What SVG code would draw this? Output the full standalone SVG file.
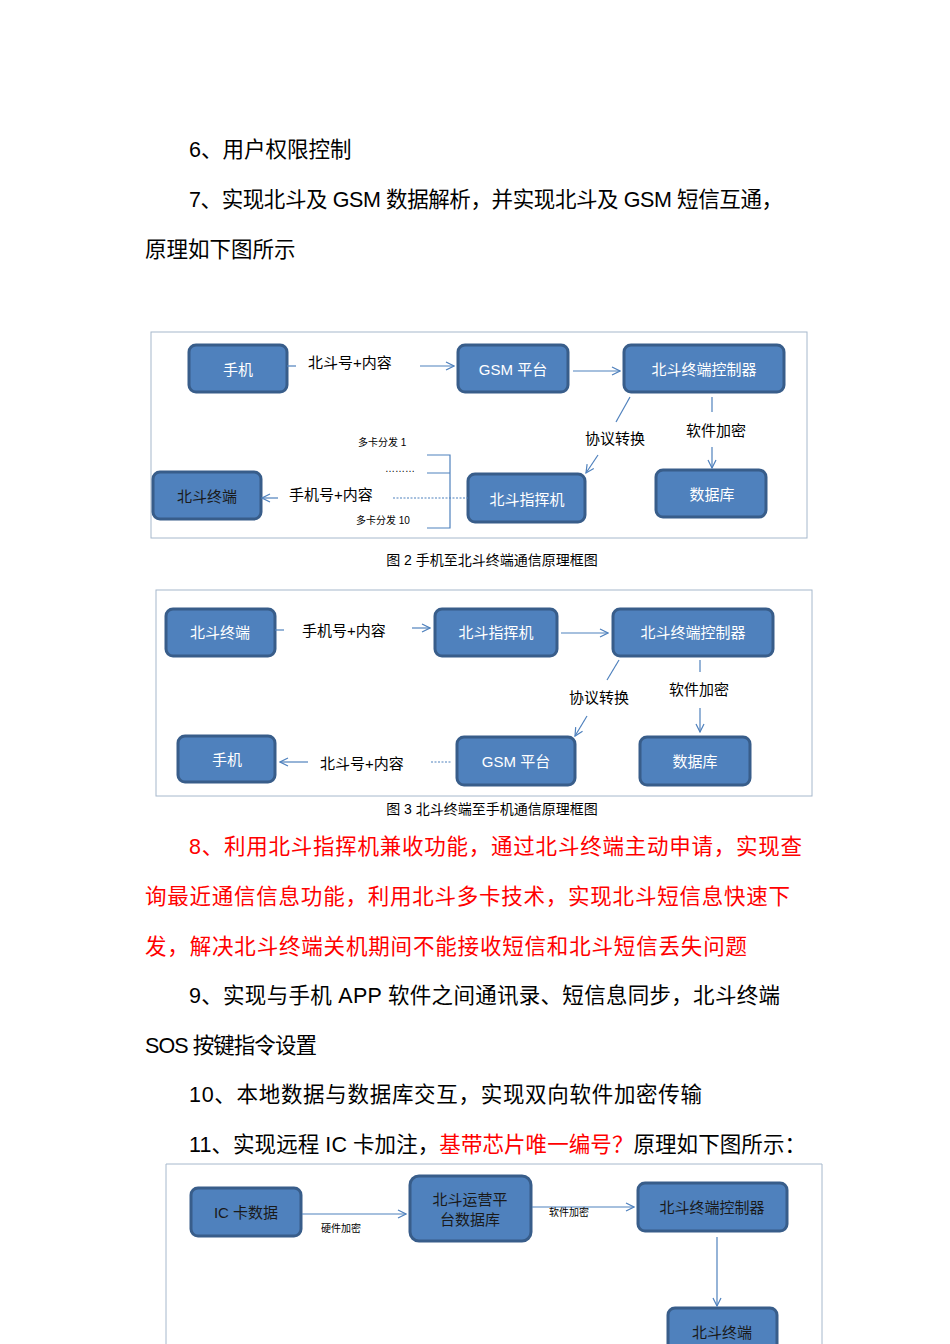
<svg xmlns="http://www.w3.org/2000/svg" width="950" height="1344" viewBox="0 0 950 1344">
<style>
.p{font-family:"Liberation Sans","Noto Sans CJK SC",sans-serif;font-size:21.5px;fill:#000}
.r{fill:#ff0000}
.n rect{fill:#4f81bd;stroke:#385d8a;stroke-width:3}
.n text{font-family:"Liberation Sans","Noto Sans CJK SC",sans-serif;font-size:15px;fill:#fff;text-anchor:middle}
.n text.d{fill:#1a1a1a}
.l{font-family:"Liberation Sans","Noto Sans CJK SC",sans-serif;font-size:15px;fill:#000}
.s{font-family:"Liberation Sans","Noto Sans CJK SC",sans-serif;font-size:10px;fill:#000}
.c{font-family:"Liberation Sans","Noto Sans CJK SC",sans-serif;font-size:14px;fill:#000;text-anchor:middle}
.e path,.e line{stroke:#4f81bd;stroke-width:1.2;fill:none}
.fr{fill:none;stroke:#a6b8cc;stroke-width:1}
</style>
<defs><marker id="a" viewBox="0 0 10 10" refX="9" refY="5" markerWidth="10" markerHeight="10" orient="auto" markerUnits="userSpaceOnUse"><path d="M1,1L9,5L1,9" fill="none" stroke="#4f81bd" stroke-width="1.2"/></marker></defs>
<rect width="950" height="1344" fill="#fff"/>
<text class="p" x="189" y="157">6、用户权限控制</text>
<text class="p" x="189" y="207" textLength="594">7、实现北斗及 GSM 数据解析，并实现北斗及 GSM 短信互通，</text>
<text class="p" x="145" y="257">原理如下图所示</text>

<rect class="fr" x="151" y="332" width="656" height="206"/>
<g id="f2-shouji" class="n"><rect x="189" y="345" width="98" height="47" rx="7"/><text x="238" y="375">手机</text></g>
<g id="f2-gsm" class="n"><rect x="458" y="345" width="110" height="47" rx="7"/><text x="513" y="375">GSM 平台</text></g>
<g id="f2-ctrl" class="n"><rect x="624" y="345" width="160" height="47" rx="7"/><text x="704" y="375">北斗终端控制器</text></g>
<g id="f2-term" class="n"><rect x="153" y="472" width="108" height="47" rx="7"/><text class="d" x="207" y="502">北斗终端</text></g>
<g id="f2-cmd" class="n"><rect x="468" y="474" width="117" height="48" rx="7"/><text x="527" y="505">北斗指挥机</text></g>
<g id="f2-db" class="n"><rect x="656" y="470" width="110" height="47" rx="7"/><text x="712" y="500">数据库</text></g>
<g class="e">
<line x1="287" y1="366" x2="296" y2="366"/>
<line x1="420" y1="366" x2="454" y2="366" marker-end="url(#a)"/>
<line x1="573" y1="371" x2="620" y2="371" marker-end="url(#a)"/>
<line x1="630" y1="397" x2="616" y2="422"/>
<line x1="598" y1="455" x2="586" y2="473" marker-end="url(#a)"/>
<line x1="712" y1="397" x2="712" y2="412"/>
<line x1="712" y1="447" x2="712" y2="468" marker-end="url(#a)"/>
<line x1="278" y1="498" x2="262" y2="498" marker-end="url(#a)"/>
<line x1="393" y1="498" x2="468" y2="498" stroke-dasharray="2,1.5"/>
<path d="M427,455H450V528H427M427,473H450"/>
</g>
<text class="l" x="308" y="368">北斗号+内容</text>
<text class="l" x="585" y="444">协议转换</text>
<text class="l" x="686" y="436">软件加密</text>
<text class="l" x="289" y="500">手机号+内容</text>
<text class="s" x="358" y="446">多卡分发 1</text>
<text class="s" x="385" y="472">………</text>
<text class="s" x="356" y="524">多卡分发 10</text>
<text class="c" x="492" y="565">图 2 手机至北斗终端通信原理框图</text>

<rect class="fr" x="156" y="590" width="656" height="206"/>
<g id="f3-term" class="n"><rect x="166" y="609" width="109" height="47" rx="7"/><text x="220" y="638">北斗终端</text></g>
<g id="f3-cmd" class="n"><rect x="435" y="609" width="122" height="47" rx="7"/><text x="496" y="638">北斗指挥机</text></g>
<g id="f3-ctrl" class="n"><rect x="613" y="609" width="160" height="47" rx="7"/><text x="693" y="638">北斗终端控制器</text></g>
<g id="f3-shouji" class="n"><rect x="178" y="736" width="97" height="46" rx="7"/><text x="227" y="765">手机</text></g>
<g id="f3-gsm" class="n"><rect x="457" y="737" width="118" height="48" rx="7"/><text x="516" y="767">GSM 平台</text></g>
<g id="f3-db" class="n"><rect x="640" y="737" width="110" height="48" rx="7"/><text x="695" y="767">数据库</text></g>
<g class="e">
<line x1="275" y1="630" x2="284" y2="630"/>
<line x1="412" y1="628" x2="430" y2="628" marker-end="url(#a)"/>
<line x1="561" y1="633" x2="608" y2="633" marker-end="url(#a)"/>
<line x1="619" y1="660" x2="607" y2="680"/>
<line x1="587" y1="716" x2="575" y2="736" marker-end="url(#a)"/>
<line x1="700" y1="660" x2="700" y2="672"/>
<line x1="700" y1="708" x2="700" y2="732" marker-end="url(#a)"/>
<line x1="308" y1="762" x2="280" y2="762" marker-end="url(#a)"/>
<line x1="431" y1="762" x2="452" y2="762" stroke-dasharray="2,1.5"/>
</g>
<text class="l" x="302" y="636">手机号+内容</text>
<text class="l" x="569" y="703">协议转换</text>
<text class="l" x="669" y="695">软件加密</text>
<text class="l" x="320" y="769">北斗号+内容</text>
<text class="c" x="492" y="814">图 3 北斗终端至手机通信原理框图</text>

<text class="p r" x="189" y="854" textLength="613">8、利用北斗指挥机兼收功能，通过北斗终端主动申请，实现查</text>
<text class="p r" x="145" y="904" textLength="645">询最近通信信息功能，利用北斗多卡技术，实现北斗短信息快速下</text>
<text class="p r" x="145" y="954" textLength="602">发，解决北斗终端关机期间不能接收短信和北斗短信丢失问题</text>
<text class="p" x="189" y="1003" textLength="591">9、实现与手机 APP 软件之间通讯录、短信息同步，北斗终端</text>
<text class="p" x="145" y="1053" textLength="172">SOS 按键指令设置</text>
<text class="p" x="189" y="1102" textLength="513">10、本地数据与数据库交互，实现双向软件加密传输</text>
<text class="p" x="189" y="1152" textLength="617">11、实现远程 IC 卡加注，<tspan class="r">基带芯片唯一编号？</tspan>原理如下图所示：</text>

<path class="fr" d="M166,1344V1164H822V1344"/>
<g id="f4-ic" class="n"><rect x="191" y="1188" width="110" height="48" rx="7"/><text class="d" x="246" y="1218">IC 卡数据</text></g>
<g id="f4-plat" class="n"><rect x="410" y="1176" width="121" height="65" rx="9"/><text class="d" x="470" y="1205">北斗运营平</text><text class="d" x="470" y="1225">台数据库</text></g>
<g id="f4-ctrl" class="n"><rect x="638" y="1183" width="149" height="48" rx="7"/><text class="d" x="712" y="1213">北斗终端控制器</text></g>
<g id="f4-term" class="n"><rect x="668" y="1308" width="109" height="48" rx="7"/><text class="d" x="722" y="1338">北斗终端</text></g>
<g class="e">
<line x1="302" y1="1214" x2="406" y2="1214" marker-end="url(#a)"/>
<line x1="532" y1="1207" x2="634" y2="1207" marker-end="url(#a)"/>
<line x1="717" y1="1237" x2="717" y2="1306" marker-end="url(#a)"/>
</g>
<text class="s" x="321" y="1232">硬件加密</text>
<text class="s" x="549" y="1216">软件加密</text>
</svg>
